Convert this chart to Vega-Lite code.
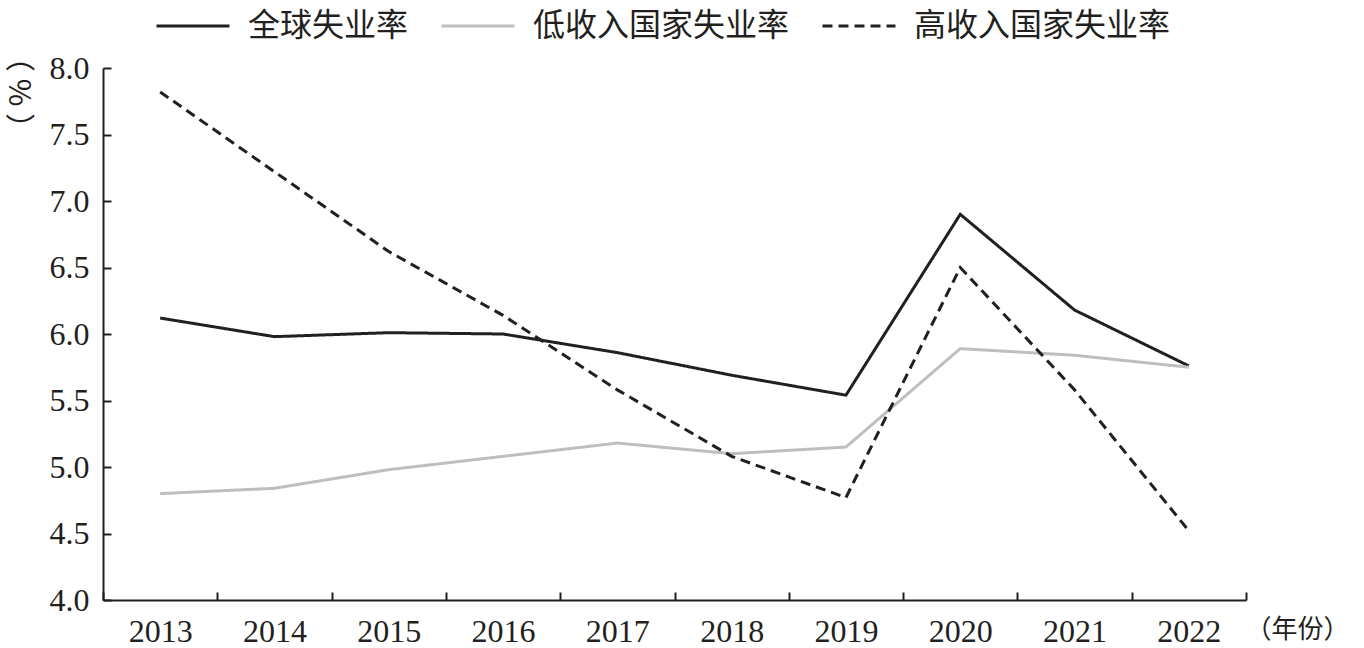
{
  "$schema": "https://vega.github.io/schema/vega-lite/v6.json",
  "width": 1143,
  "height": 532,
  "autosize": {"type": "none"},
  "padding": {"left": 103, "top": 68, "right": 118, "bottom": 48},
  "background": "white",
  "config": {
    "view": {"stroke": null},
    "font": "Liberation Serif",
    "axis": {"labelFont": "Liberation Serif", "titleFont": "Noto Sans CJK SC", "domainColor": "#231f20", "tickColor": "#231f20", "labelColor": "#231f20", "titleColor": "#231f20", "domainWidth": 2, "tickWidth": 2, "grid": false}
  },
  "data": {
    "values": [
      {"year": "2013", "series": "全球失业率", "v": 6.12},
      {"year": "2014", "series": "全球失业率", "v": 5.98},
      {"year": "2015", "series": "全球失业率", "v": 6.01},
      {"year": "2016", "series": "全球失业率", "v": 6.0},
      {"year": "2017", "series": "全球失业率", "v": 5.86},
      {"year": "2018", "series": "全球失业率", "v": 5.69},
      {"year": "2019", "series": "全球失业率", "v": 5.54},
      {"year": "2020", "series": "全球失业率", "v": 6.9},
      {"year": "2021", "series": "全球失业率", "v": 6.18},
      {"year": "2022", "series": "全球失业率", "v": 5.76},
      {"year": "2013", "series": "低收入国家失业率", "v": 4.8},
      {"year": "2014", "series": "低收入国家失业率", "v": 4.84},
      {"year": "2015", "series": "低收入国家失业率", "v": 4.98},
      {"year": "2016", "series": "低收入国家失业率", "v": 5.08},
      {"year": "2017", "series": "低收入国家失业率", "v": 5.18},
      {"year": "2018", "series": "低收入国家失业率", "v": 5.1},
      {"year": "2019", "series": "低收入国家失业率", "v": 5.15},
      {"year": "2020", "series": "低收入国家失业率", "v": 5.89},
      {"year": "2021", "series": "低收入国家失业率", "v": 5.84},
      {"year": "2022", "series": "低收入国家失业率", "v": 5.75},
      {"year": "2013", "series": "高收入国家失业率", "v": 7.82},
      {"year": "2014", "series": "高收入国家失业率", "v": 7.22},
      {"year": "2015", "series": "高收入国家失业率", "v": 6.62},
      {"year": "2016", "series": "高收入国家失业率", "v": 6.14},
      {"year": "2017", "series": "高收入国家失业率", "v": 5.58},
      {"year": "2018", "series": "高收入国家失业率", "v": 5.08},
      {"year": "2019", "series": "高收入国家失业率", "v": 4.77},
      {"year": "2020", "series": "高收入国家失业率", "v": 6.5},
      {"year": "2021", "series": "高收入国家失业率", "v": 5.58},
      {"year": "2022", "series": "高收入国家失业率", "v": 4.52}
    ]
  },
  "mark": {"type": "line", "strokeWidth": 3, "strokeJoin": "miter"},
  "encoding": {
    "x": {
      "field": "year", "type": "ordinal",
      "scale": {"type": "band", "paddingInner": 0, "paddingOuter": 0},
      "axis": {
        "title": "（年份）", "titleFontSize": 26, "titleFontWeight": "normal",
        "titleAnchor": "start", "titleAlign": "left", "titleX": 1142, "titleY": 29, "titleBaseline": "middle",
        "labelAngle": 0, "labelFontSize": 32, "labelPadding": 24, "tickSize": -8,
        "tickBand": "extent", "labelBaseline": "top"
      }
    },
    "y": {
      "field": "v", "type": "quantitative",
      "scale": {"domain": [4, 8], "nice": false, "zero": false},
      "axis": {
        "values": [4, 4.5, 5, 5.5, 6, 6.5, 7, 7.5, 8], "format": ".1f",
        "labelFontSize": 32, "labelPadding": 22, "tickSize": -8,
        "title": "（ % ）", "titleAngle": 90, "titleFontSize": 30, "titleFontWeight": "normal",
        "titleFont": "Noto Sans CJK SC",
        "titleX": -86, "titleY": 24, "titleAlign": "center", "titleBaseline": "middle"
      }
    },
    "color": {
      "field": "series", "type": "nominal",
      "scale": {"domain": ["全球失业率", "低收入国家失业率", "高收入国家失业率"], "range": ["#231f20", "#bcbec0", "#231f20"]},
      "legend": {
        "title": null, "orient": "none", "direction": "horizontal",
        "legendX": 52, "legendY": -80,
        "symbolType": "stroke", "symbolSize": 5329, "symbolStrokeWidth": 3,
        "labelFont": "Noto Sans CJK SC", "labelFontSize": 32, "labelColor": "#231f20",
        "labelOffset": 17, "columnPadding": 26, "labelLimit": 400
      }
    },
    "strokeDash": {
      "field": "series", "type": "nominal",
      "scale": {"domain": ["全球失业率", "低收入国家失业率", "高收入国家失业率"], "range": [[1, 0], [1, 0], [10, 6]]},
      "legend": {
        "title": null, "orient": "none", "direction": "horizontal",
        "legendX": 52, "legendY": -80,
        "symbolType": "stroke", "symbolSize": 5329, "symbolStrokeWidth": 3,
        "labelFont": "Noto Sans CJK SC", "labelFontSize": 32, "labelColor": "#231f20",
        "labelOffset": 17, "columnPadding": 26, "labelLimit": 400
      }
    }
  }
}
